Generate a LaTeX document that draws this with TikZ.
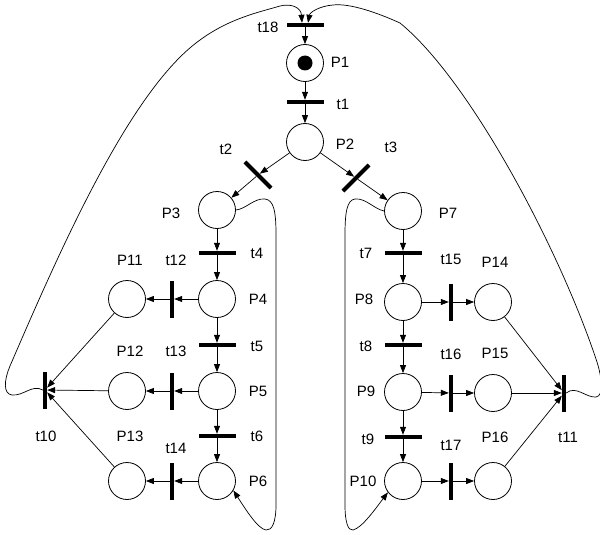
\documentclass[tikz,border=0pt]{standalone}
\usepackage{fontspec}
\setmainfont{Liberation Sans}
\usetikzlibrary{arrows.meta}
\begin{document}
\begin{tikzpicture}[x=1pt,y=-1pt,
  place/.style={circle,draw,line width=0.8pt,minimum size=37pt,inner sep=0pt},
  htrans/.style={rectangle,fill=black,minimum width=37pt,minimum height=4pt,inner sep=0pt},
  vtrans/.style={rectangle,fill=black,minimum width=4pt,minimum height=37pt,inner sep=0pt},
  arc/.style={draw,line width=0.7pt,-{Triangle[length=8pt,width=6pt]}},
  lbl/.style={font=\fontsize{15}{18}\selectfont,inner sep=0pt}]
\useasboundingbox[fill=white] (0,0) rectangle (600,535);

% places
\node[place] (P1) at (305,63) {};
\fill (P1) circle (7.5pt);
\node[place] (P2) at (305,142) {};
\node[place] (P3) at (217,210) {};
\node[place] (P4) at (217,299) {};
\node[place] (P5) at (217,391) {};
\node[place] (P6) at (217,481) {};
\node[place] (P7) at (403,211) {};
\node[place] (P8) at (403,302) {};
\node[place] (P9) at (403,392) {};
\node[place] (P10) at (403,481) {};
\node[place] (P11) at (127,299) {};
\node[place] (P12) at (127,391) {};
\node[place] (P13) at (127,481) {};
\node[place] (P14) at (493,302) {};
\node[place] (P15) at (493,393) {};
\node[place] (P16) at (493,481) {};

% transitions
\node[htrans] (t18) at (305,25) {};
\node[htrans] (t1) at (305,102) {};
\node[htrans,rotate=-45] (t2) at (258,175) {};
\node[htrans,rotate=45] (t3) at (356,178) {};
\node[htrans] (t4) at (217,253) {};
\node[htrans] (t5) at (217,345) {};
\node[htrans] (t6) at (217,436) {};
\node[vtrans] (t12) at (172,299) {};
\node[vtrans] (t13) at (172,391) {};
\node[vtrans] (t14) at (172,481) {};
\node[vtrans] (t10) at (45,390) {};
\node[htrans] (t7) at (403,253) {};
\node[htrans] (t8) at (403,345) {};
\node[htrans] (t9) at (403,437) {};
\node[vtrans] (t15) at (451,302) {};
\node[vtrans] (t16) at (451,393) {};
\node[vtrans] (t17) at (451,481) {};
\node[vtrans] (t11) at (564,393) {};

% labels
\node[lbl] (lt18) at (268,27) {t18};
\node[lbl] (lP1) at (340,62) {P1};
\node[lbl] (lt1) at (343,104) {t1};
\node[lbl] (lP2) at (345,144) {P2};
\node[lbl] (lt2) at (226,149) {t2};
\node[lbl] (lt3) at (391,147) {t3};
\node[lbl] (lP3) at (171,213) {P3};
\node[lbl] (lP7) at (448,213) {P7};
\node[lbl] (lt4) at (257,253) {t4};
\node[lbl] (lt12) at (176,260) {t12};
\node[lbl] (lP11) at (130,260) {P11};
\node[lbl] (lP4) at (258,299) {P4};
\node[lbl] (lt5) at (257,346) {t5};
\node[lbl] (lt13) at (176,351) {t13};
\node[lbl] (lP12) at (130,351) {P12};
\node[lbl] (lP5) at (258,391) {P5};
\node[lbl] (lt6) at (257,436) {t6};
\node[lbl] (lt10) at (46,436) {t10};
\node[lbl] (lP13) at (130,436) {P13};
\node[lbl] (lt14) at (176,448) {t14};
\node[lbl] (lP6) at (258,481) {P6};
\node[lbl] (lt7) at (366,253) {t7};
\node[lbl] (lt15) at (451,259) {t15};
\node[lbl] (lP14) at (495,262) {P14};
\node[lbl] (lP8) at (364,299) {P8};
\node[lbl] (lt8) at (366,346) {t8};
\node[lbl] (lt16) at (451,354) {t16};
\node[lbl] (lP15) at (495,353) {P15};
\node[lbl] (lP9) at (366,391) {P9};
\node[lbl] (lt9) at (368,439) {t9};
\node[lbl] (lt17) at (451,445) {t17};
\node[lbl] (lP16) at (495,437) {P16};
\node[lbl] (lt11) at (568,437) {t11};
\node[lbl] (lP10) at (363,481) {P10};

% straight arcs
\draw[arc] (t18) -- (P1);
\draw[arc] (P1) -- (t1);
\draw[arc] (t1) -- (P2);
\draw[arc] (P2) -- (t2);
\draw[arc] (t2) -- (P3);
\draw[arc] (P2) -- (t3);
\draw[arc] (t3) -- (P7);
\draw[arc] (P3) -- (t4);
\draw[arc] (t4) -- (P4);
\draw[arc] (P4) -- (t5);
\draw[arc] (t5) -- (P5);
\draw[arc] (P5) -- (t6);
\draw[arc] (t6) -- (P6);
\draw[arc] (P4) -- (t12);
\draw[arc] (t12) -- (P11);
\draw[arc] (P5) -- (t13);
\draw[arc] (t13) -- (P12);
\draw[arc] (P6) -- (t14);
\draw[arc] (t14) -- (P13);
\draw[arc] (P11) -- (t10);
\draw[arc] (P12) -- (t10);
\draw[arc] (P13) -- (t10);
\draw[arc] (P7) -- (t7);
\draw[arc] (t7) -- (P8);
\draw[arc] (P8) -- (t8);
\draw[arc] (t8) -- (P9);
\draw[arc] (P9) -- (t9);
\draw[arc] (t9) -- (P10);
\draw[arc] (P8) -- (t15);
\draw[arc] (t15) -- (P14);
\draw[arc] (P9) -- (t16);
\draw[arc] (t16) -- (P15);
\draw[arc] (P10) -- (t17);
\draw[arc] (t17) -- (P16);
\draw[arc] (P14) -- (t11);
\draw[arc] (P15) -- (t11);
\draw[arc] (P16) -- (t11);

% curved arcs
\draw[arc] (t10.west) .. controls (32,384) and (24,396) .. (12,395)
  .. controls (3,394) and (4,380) .. (10,366)
  .. controls (60,250) and (130,90) .. (200,40)
  .. controls (230,18) and (260,12) .. (280,6)
  .. controls (292,3) and (301,8) .. ([xshift=-3pt]t18.north);
\draw[arc] (t11.east) .. controls (576,385) and (586,398) .. (596,397)
  .. controls (604,396) and (602,378) .. (597,362)
  .. controls (560,250) and (470,80) .. (400,23)
  .. controls (378,13) and (350,3) .. (333,5)
  .. controls (320,6) and (310,12) .. ([xshift=3pt]t18.north);
\draw[arc] (P3.east) .. controls (246,209) and (254,198) .. (265,199)
  .. controls (274,200) and (276,212) .. (276,235)
  -- (276,505)
  .. controls (276,522) and (272,531) .. (266,530)
  .. controls (258,529) and (246,510) .. (P6.-30);
\draw[arc] (P7.west) .. controls (374,209) and (366,198) .. (355,199)
  .. controls (347,200) and (345,212) .. (345,235)
  -- (345,505)
  .. controls (345,522) and (348,531) .. (353,530)
  .. controls (362,528) and (376,508) .. (P10.217);
\end{tikzpicture}
\end{document}
